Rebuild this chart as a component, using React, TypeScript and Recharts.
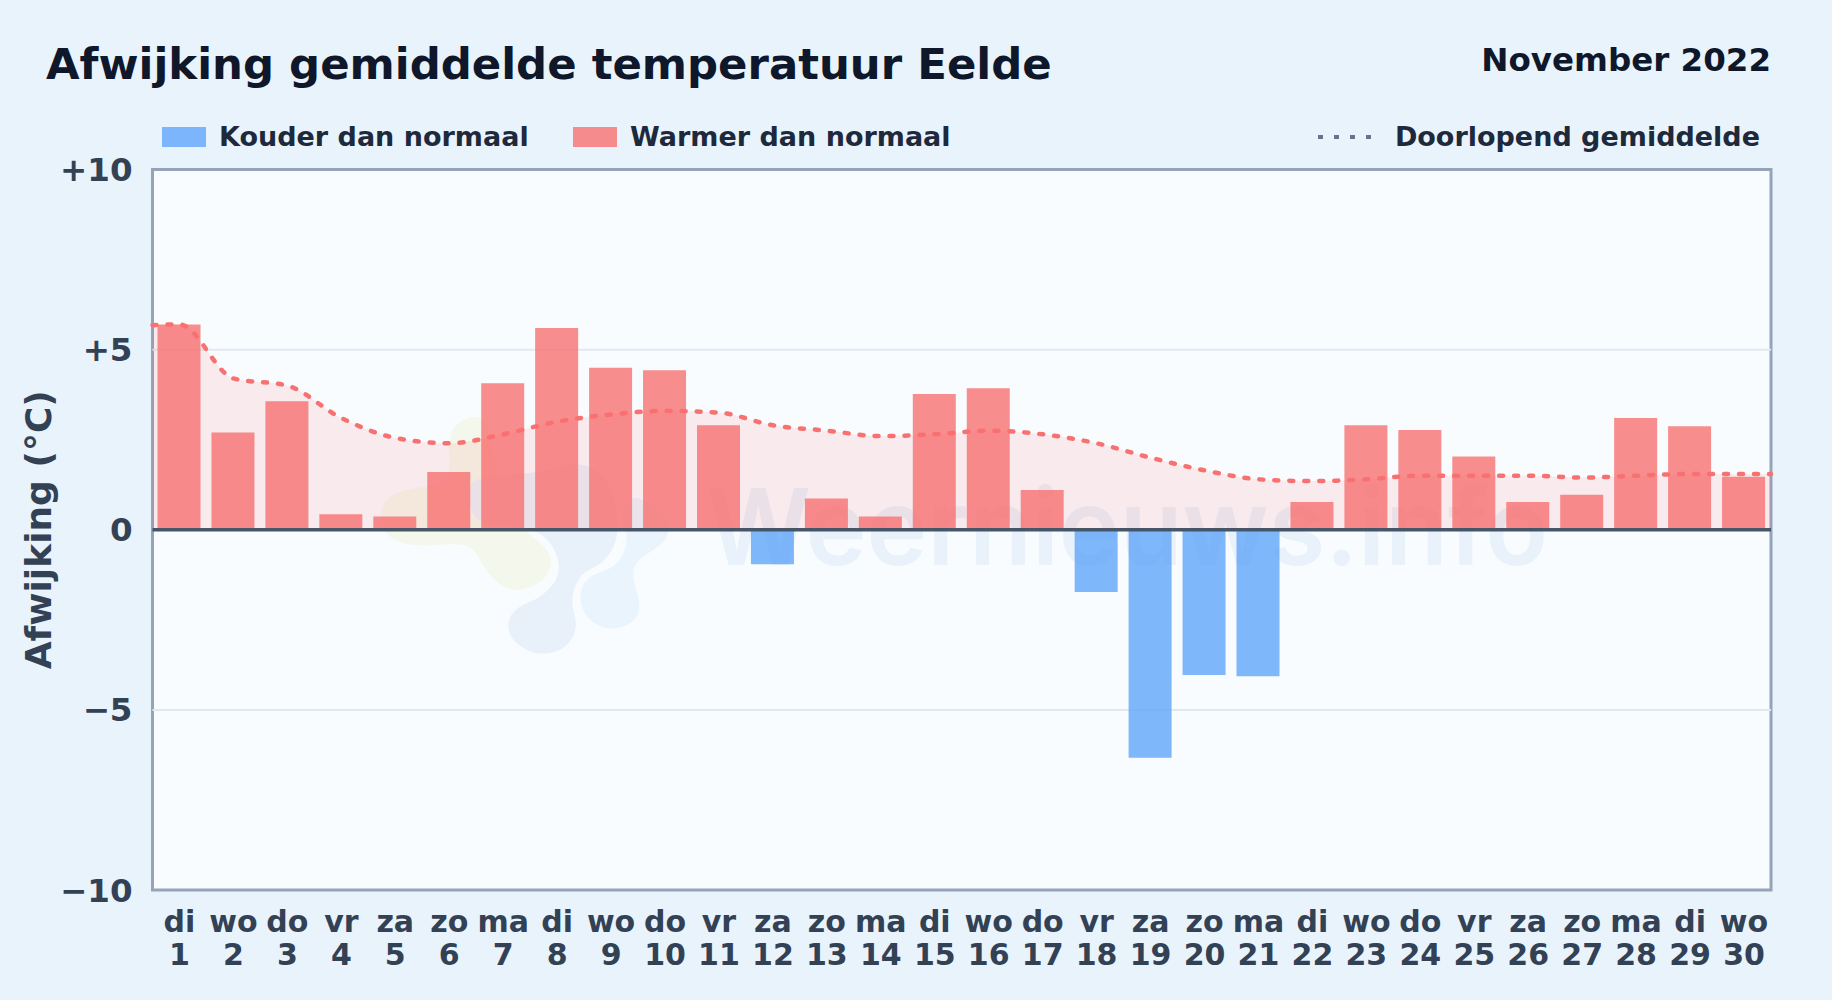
import React from "react";
import { ComposedChart, Bar, Area, XAxis, YAxis, CartesianGrid, ReferenceLine, Cell } from "recharts";

const FONT = "'DejaVu Sans', sans-serif";
const dayNames = ["di","wo","do","vr","za","zo","ma","di","wo","do","vr","za","zo","ma","di","wo","do","vr","za","zo","ma","di","wo","do","vr","za","zo","ma","di","wo"];
const days = [1,2,3,4,5,6,7,8,9,10,11,12,13,14,15,16,17,18,19,20,21,22,23,24,25,26,27,28,29,30];
const anomaly = [5.7,2.7,3.57,0.43,0.37,1.6,4.07,5.6,4.5,4.43,2.9,-0.96,0.87,0.37,3.77,3.93,1.1,-1.73,-6.33,-4.03,-4.07,0.77,2.9,2.77,2.03,0.77,0.97,3.1,2.87,1.47];
const runningMean = [5.7,4.2,4.0,3.1,2.55,2.4,2.65,3.0,3.2,3.3,3.25,2.9,2.75,2.6,2.65,2.75,2.65,2.4,2.0,1.65,1.4,1.35,1.4,1.5,1.5,1.5,1.45,1.5,1.55,1.55];
const yTicks = [-10,-5,0,5,10];
const gridValues = [-5,5];

const barRows = days.map((d, i) => ({ x: d, value: anomaly[i] }));
const lineRows = [
  { x: 0.5, avg: 5.68 },
  ...days.map((d, i) => ({ x: d, avg: runningMean[i] })),
  { x: 30.5, avg: 1.55 },
];

// watermark outline points (zoomed crop units), smoothed into closed curves
const blobGreen = [[400,45],[340,75],[325,130],[330,200],[320,255],[200,265],[130,300],[120,360],[150,420],[230,440],[340,430],[400,440],[440,520],[510,578],[600,555],[640,495],[620,440],[560,400],[500,330],[470,220],[440,60]];
const blobBlue = [[400,235],[520,225],[640,210],[720,185],[800,230],[830,320],[835,420],[790,490],[720,520],[690,600],[715,680],[680,745],[600,768],[520,730],[498,670],[530,620],[610,590],[665,520],[640,430],[570,380],[440,375],[390,340],[385,270]];
const blobLight = [[860,400],[850,300],[900,290],[990,350],[985,410],[950,445],[890,480],[875,530],[905,620],[880,670],[810,692],[740,660],[715,590],[740,530],[830,500],[860,440]];

function smooth(pts: number[][]) {
  const mid = (a: number[], b: number[]) => [(a[0] + b[0]) / 2, (a[1] + b[1]) / 2];
  const n = pts.length;
  const s = mid(pts[n - 1], pts[0]);
  let d = `M${s[0]} ${s[1]}`;
  for (let i = 0; i < n; i++) {
    const m = mid(pts[i], pts[(i + 1) % n]);
    d += ` Q${pts[i][0]} ${pts[i][1]} ${m[0]} ${m[1]}`;
  }
  return d + " Z";
}

const fmt = (v: number) => (v > 0 ? `+${v}` : v < 0 ? `\u2212${-v}` : "0");

function DayTick({ x, payload }: any) {
  const name = dayNames[payload.value - 1] ?? "";
  return (
    <text x={x} textAnchor="middle" fontFamily={FONT} fontWeight={700} fontSize={30} fill="#334155">
      <tspan x={x} y={932}>{name}</tspan>
      <tspan x={x} y={965}>{payload.value}</tspan>
    </text>
  );
}

export default function App() {
  return (
    <div style={{ position: "absolute", left: 0, top: 0, width: 1832, height: 1000, overflow: "hidden", background: "#e8f3fc", fontFamily: FONT }}>
      <svg width={1832} height={1000} style={{ position: "absolute", left: 0, top: 0 }}>
        <rect x={152.5} y={169.5} width={1618.5} height={720.5} fill="#f8fcff" stroke="#94a3b8" strokeWidth={3} />
        <g transform="translate(340 400) scale(0.3333)">
          <path d={smooth(blobGreen)} fill="#f4f8ec" />
          <path d={smooth(blobBlue)} fill="#e8f0f9" />
          <path d={smooth(blobLight)} fill="#e9f4fd" />
        </g>
        <text x={706} y={565} fontFamily="Inter, sans-serif" fontWeight={600} fontSize={106} fill="#e9f1fa" textLength={842} lengthAdjust="spacingAndGlyphs">Weernieuws.info</text>
        <text x={46} y={79} fontWeight={700} fontSize={43.4} fill="#0f172a">Afwijking gemiddelde temperatuur Eelde</text>
        <text x={1771} y={71} textAnchor="end" fontWeight={700} fontSize={32.5} fill="#0f172a">November 2022</text>
        <rect x={162} y={127} width={44} height={20} fill="#60a5fa" opacity={0.8} />
        <text x={219} y={146} fontWeight={700} fontSize={27} fill="#1e293b">Kouder dan normaal</text>
        <rect x={573} y={127} width={44} height={20} fill="#f87171" opacity={0.8} />
        <text x={630} y={146} fontWeight={700} fontSize={27} fill="#1e293b">Warmer dan normaal</text>
        <line x1={1318} y1={137} x2={1376} y2={137} stroke="#64748b" strokeWidth={4} strokeDasharray="5 11" />
        <text x={1760} y={146} textAnchor="end" fontWeight={700} fontSize={27} fill="#1e293b">Doorlopend gemiddelde</text>
      </svg>
      <ComposedChart
        width={1832}
        height={1000}
        data={barRows}
        margin={{ top: 169.5, right: 61, bottom: 0, left: 0 }}
        style={{ position: "absolute", left: 0, top: 0 }}
      >
        <CartesianGrid horizontal vertical={false} horizontalValues={gridValues} stroke="#e2e8f0" strokeWidth={2} />
        <XAxis xAxisId="days" dataKey="x" type="number" domain={[0.5, 30.5]} ticks={days} interval={0} axisLine={false} tickLine={false} tick={<DayTick />} height={110} />
        <XAxis xAxisId="edges" dataKey="x" type="number" domain={[0.5, 30.5]} hide />
        <YAxis
          type="number"
          domain={[-10, 10]}
          ticks={yTicks}
          tickFormatter={fmt}
          width={152.5}
          axisLine={false}
          tickLine={false}
          tickMargin={14}
          tick={{ fontFamily: FONT, fontWeight: 700, fontSize: 32.5, fill: "#334155" }}
          label={{ value: "Afwijking (°C)", angle: -90, position: "insideLeft", offset: 38.5, style: { fontFamily: FONT, fontWeight: 700, fontSize: 36, fill: "#334155", textAnchor: "middle" } }}
        />
        <Area xAxisId="edges" data={lineRows} type="monotone" dataKey="avg" stroke="none" fill="#f87171" fillOpacity={0.13} isAnimationActive={false} dot={false} activeDot={false} />
        <Bar xAxisId="days" dataKey="value" barSize={43} isAnimationActive={false}>
          {barRows.map((r, i) => (
            <Cell key={i} fill={r.value < 0 ? "#60a5fa" : "#f87171"} fillOpacity={0.8} />
          ))}
        </Bar>
        <Area xAxisId="edges" data={lineRows} type="monotone" dataKey="avg" stroke="#f87171" strokeWidth={4.5} strokeDasharray="4 11" strokeLinecap="round" fill="none" isAnimationActive={false} dot={false} activeDot={false} />
        <ReferenceLine xAxisId="days" y={0} stroke="#475569" strokeWidth={3.5} />
      </ComposedChart>
    </div>
  );
}
